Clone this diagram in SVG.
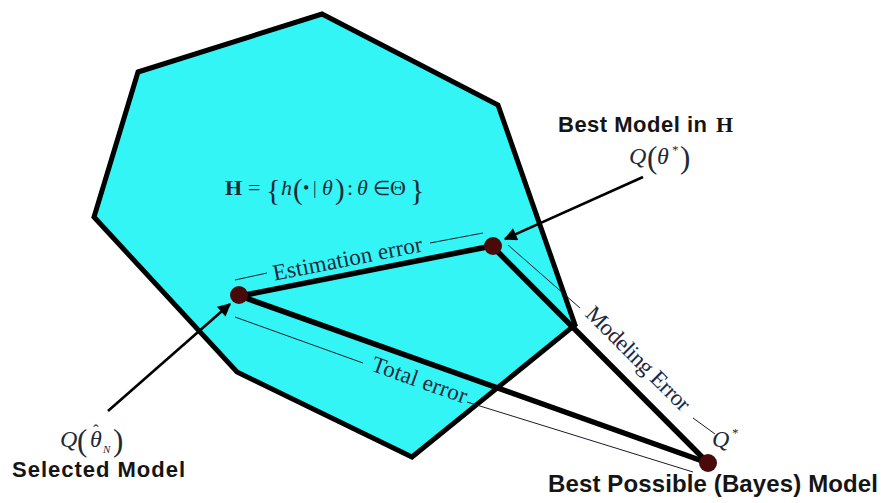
<svg xmlns="http://www.w3.org/2000/svg" width="881" height="503" viewBox="0 0 881 503">
<defs>
<marker id="ah" viewBox="0 0 10 10" refX="9" refY="5" markerWidth="6" markerHeight="5" orient="auto" markerUnits="strokeWidth">
<path d="M0,0 L10,5 L0,10 z" fill="#000"/>
</marker>
<style>
.region{fill:#33f5f5;stroke:#000;stroke-width:5;stroke-linejoin:miter}
.thick{stroke:#000;stroke-width:5.5;fill:none;stroke-linecap:round}
.thin{stroke:#1a1a2a;stroke-width:1;fill:none}
.arrow{stroke:#000;stroke-width:2.6;fill:none}
.dot{fill:#4a0a0a}
.lbl{font-family:"Liberation Sans",Arial,sans-serif;font-weight:bold;fill:#151515}
.math{font-family:"Liberation Serif","Times New Roman",serif;fill:#1e2a36}
.mi{font-style:italic}
.err{font-family:"Liberation Serif","Times New Roman",serif;font-size:23px;fill:#26263a}
</style>
</defs>
<rect width="881" height="503" fill="#fff"/>
<g id="hypothesis-space">
<polygon class="region" points="138,72 322,14 498,105 575,325 412,457 237,372 94,217"/>
<g class="math" font-size="22">
<text x="225" y="195" font-weight="bold">H</text>
<text x="248" y="195">=</text>
<text x="266" y="200" font-size="30">{</text>
<text x="281" y="195" class="mi">h</text>
<text x="293" y="199" font-size="29">(</text>
<text x="303" y="194" font-size="18">•</text>
<text x="313" y="194" font-size="18">|</text>
<text x="322" y="195" class="mi">θ</text>
<text x="335" y="199" font-size="29">)</text>
<text x="347" y="195">:</text>
<text x="357" y="195" class="mi">θ</text>
<text x="373" y="195" font-size="20">∈</text>
<text x="390" y="195">Θ</text>
<text x="410" y="200" font-size="30">}</text>
</g>
</g>
<g id="connectors">
<line class="thin" x1="235" y1="280" x2="267" y2="273"/>
<line class="thin" x1="430" y1="243" x2="483" y2="233"/>
<line class="thin" x1="508" y1="245" x2="580" y2="308"/>
<line class="thin" x1="693" y1="418" x2="715" y2="434"/>
<line class="thin" x1="235" y1="317" x2="363" y2="363"/>
<line class="thin" x1="467" y1="402" x2="693" y2="472"/>
<line class="thick" x1="240" y1="296" x2="492" y2="246"/>
<line class="thick" x1="492" y1="246" x2="708" y2="463"/>
<line class="thick" x1="240" y1="296" x2="708" y2="463"/>
<line class="arrow" x1="643" y1="177" x2="505" y2="239" marker-end="url(#ah)"/>
<line class="arrow" x1="108" y1="411" x2="230" y2="304" marker-end="url(#ah)"/>
<text class="err" x="349" y="266" text-anchor="middle" textLength="152" transform="rotate(-11.2 349 266)">Estimation error</text>
<text class="err" x="633" y="364" text-anchor="middle" textLength="138" transform="rotate(45 633 364)">Modeling Error</text>
<text class="err" x="417" y="387" text-anchor="middle" textLength="100" transform="rotate(19.6 417 387)">Total error</text>
</g>
<g id="selected-model">
<circle class="dot" cx="239" cy="295" r="9"/>
<text class="math" font-size="24" x="60" y="447"><tspan class="mi">Q</tspan><tspan x="77" y="451" font-size="31">(</tspan><tspan x="90" y="447" class="mi">θ</tspan><tspan x="93" y="436" font-size="17">ˆ</tspan><tspan x="103" y="453" font-size="11" class="mi">N</tspan><tspan x="113" y="451" font-size="31">)</tspan></text>
<text class="lbl" x="12" y="477" font-size="22" textLength="173">Selected Model</text>
</g>
<g id="best-model-in-h">
<circle class="dot" cx="493" cy="246" r="9"/>
<text class="lbl" x="558" y="132" font-size="22" textLength="149">Best Model in</text>
<text x="716" y="132" font-size="22" font-weight="bold" font-family="Liberation Serif, serif" fill="#151515">H</text>
<g class="math" font-size="24">
<text x="629" y="164" class="mi">Q</text>
<text x="647" y="168" font-size="31">(</text>
<text x="657" y="164" class="mi">θ</text>
<text x="672" y="154" font-size="13">*</text>
<text x="680" y="168" font-size="31">)</text>
</g>
</g>
<g id="bayes-model">
<circle class="dot" cx="708" cy="463" r="9"/>
<g class="math" font-size="24">
<text x="712" y="447" class="mi">Q</text>
<text x="732" y="437" font-size="13">*</text>
</g>
<text class="lbl" x="548" y="492" font-size="24" textLength="330">Best Possible (Bayes) Model</text>
</g>
</svg>
